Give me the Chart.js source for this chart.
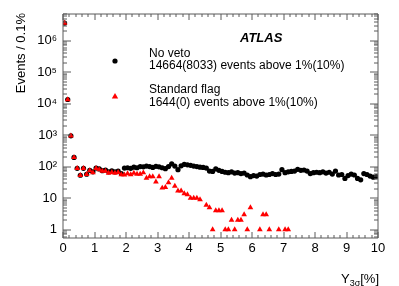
<!DOCTYPE html>
<html><head><meta charset="utf-8">
<script src="https://cdn.jsdelivr.net/npm/chart.js@4/dist/chart.umd.min.js"></script>
<style>html,body{margin:0;padding:0;background:#fff;}canvas{display:block;}</style>
</head><body>
<canvas id="c" width="399" height="286"></canvas>
<script>
// Bin centres of Y_3sigma [%] (0.1% bins)
const binCenters = [0.05,0.15,0.25,0.35,0.45,0.55,0.65,0.75,0.85,0.95,
1.05,1.15,1.25,1.35,1.45,1.55,1.65,1.75,1.85,1.95,
2.05,2.15,2.25,2.35,2.45,2.55,2.65,2.75,2.85,2.95,
3.05,3.15,3.25,3.35,3.45,3.55,3.65,3.75,3.85,3.95,
4.05,4.15,4.25,4.35,4.45,4.55,4.65,4.75,4.85,4.95,
5.05,5.15,5.25,5.35,5.45,5.55,5.65,5.75,5.85,5.95,
6.05,6.15,6.25,6.35,6.45,6.55,6.65,6.75,6.85,6.95,
7.05,7.15,7.25,7.35,7.45,7.55,7.65,7.75,7.85,7.95,
8.05,8.15,8.25,8.35,8.45,8.55,8.65,8.75,8.85,8.95,
9.05,9.15,9.25,9.35,9.45,9.55,9.65,9.75,9.85,9.95];

// "No veto" events per bin
const noVeto = [3.6e6,1.35e4,950,195,88,53,88,57,76,68,
90,84,74,78,68,73,68,72,60,90,
92,88,96,92,100,98,104,100,94,102,
98,92,86,100,122,104,80,106,118,114,
110,104,100,96,94,90,72,70,84,76,
70,66,64,68,62,64,60,62,54,48,
52,50,56,58,54,56,60,56,58,80,
64,68,70,72,82,76,78,72,60,64,
66,64,68,62,66,58,72,54,56,42,
52,58,54,42,38,60,56,50,46,48];

// "Standard flag" events per bin (null = empty bin)
const standardFlag = [3.6e6,1.35e4,950,195,88,53,88,57,75,64,
88,80,72,72,62,66,62,66,56,55,
60,56,62,58,58,64,43,48,48,33,
48,21,22,31,43,24,17,17,14,13,
10,10,10,9,null,6,5,1,4,4,
4,1,1,2,1,2,2,3,1,5,
null,null,1,3,3,1,null,null,1,null,
1,1,null,null,null,null,null,null,null,null,
null,null,null,null,null,null,null,null,null,null,
null,null,null,null,null,null,null,null,null,null];

const xTicks = [0,1,2,3,4,5,6,7,8,9,10];
const yDecades = [1,10,100,1000,10000,100000,1000000];
const yTickLabels = ['1','10','10\u00B2','10\u00B3','10\u2074','10\u2075','10\u2076'];

const legendTitles = ['No veto','Standard flag'];
const legendLines = ['14664(8033) events above 1%(10%)','1644(0) events above 1%(10%)'];

const FONT = "'Liberation Sans', Arial, Helvetica, sans-serif";

function toPoints(vals){
  const out = [];
  vals.forEach((v,i)=>{ if(v!==null) out.push({x:binCenters[i], y:v}); });
  return out;
}

const framePlugin = {
  id:'frame',
  afterDatasetsDraw(chart){
    const ctx = chart.ctx, a = chart.chartArea;
    const xs = chart.scales.x, ys = chart.scales.y;
    ctx.save();
    ctx.strokeStyle = '#5a5a5a';
    ctx.lineWidth = 1;
    const L = Math.round(a.left), R = Math.round(a.right), T = Math.round(a.top), B = Math.round(a.bottom);
    ctx.beginPath();
    ctx.rect(L, T, R-L, B-T);
    ctx.stroke();
    ctx.beginPath();
    // x ticks (major every 1, minor every 0.2)
    for(let k=0;k<=50;k++){
      const v = k*0.2;
      const px = Math.round(xs.getPixelForValue(v));
      const len = (k%5===0)?6:3;
      ctx.moveTo(px, B); ctx.lineTo(px, B-len);
      ctx.moveTo(px, T); ctx.lineTo(px, T+len);
    }
    // y log ticks
    for(let d=-1; d<=6; d++){
      for(let m=1;m<=9;m++){
        const v = m*Math.pow(10,d);
        if(v<ys.min || v>ys.max) continue;
        const py = Math.round(ys.getPixelForValue(v));
        const len = (m===1)?8:4;
        ctx.moveTo(L, py); ctx.lineTo(L+len, py);
        ctx.moveTo(R, py); ctx.lineTo(R-len, py);
      }
    }
    ctx.stroke();

    // y axis title
    ctx.fillStyle = '#000';
    ctx.font = '13px ' + FONT;
    ctx.save();
    ctx.translate(25, 13);
    ctx.rotate(-Math.PI/2);
    ctx.textAlign = 'right';
    ctx.textBaseline = 'alphabetic';
    ctx.fillText('Events / 0.1%', 0, 0);
    ctx.restore();

    // x axis title: Y_{3σ}[%], right aligned to axis end
    ctx.textBaseline = 'alphabetic';
    ctx.textAlign = 'left';
    const f1 = '13px ' + FONT, f2 = '9px ' + FONT;
    ctx.font = f1; const wBr = ctx.measureText('[%]').width; const wY = ctx.measureText('Y').width;
    ctx.font = f2; const wSub = ctx.measureText('3\u03C3').width;
    let x0 = R + 1 - wBr - wSub - wY;
    ctx.font = f1; ctx.fillText('Y', x0, 283);
    ctx.font = f2; ctx.fillText('3\u03C3', x0 + wY, 285.5);
    ctx.font = f1; ctx.fillText('[%]', x0 + wY + wSub, 283);

    // ATLAS label
    ctx.font = 'italic bold 13px ' + FONT;
    ctx.fillText('ATLAS', 240, 41.7);

    // legend
    ctx.font = '12px ' + FONT;
    ctx.fillText(legendTitles[0], 149, 56.7);
    ctx.fillText(legendLines[0], 149, 69.3);
    ctx.fillText(legendTitles[1], 149, 92.5);
    ctx.fillText(legendLines[1], 149, 105.5);
    ctx.fillStyle = '#000';
    ctx.beginPath(); ctx.arc(115, 61, 2.6, 0, Math.PI*2); ctx.fill();
    ctx.fillStyle = '#ff0000';
    ctx.beginPath();
    ctx.moveTo(115, 93); ctx.lineTo(118.2, 98.5); ctx.lineTo(111.8, 98.5); ctx.closePath(); ctx.fill();
    ctx.restore();
  }
};

new Chart(document.getElementById('c'), {
  type:'scatter',
  data:{
    datasets:[
      {label:'Standard flag', data:toPoints(standardFlag), pointStyle:'triangle', pointRadius:3.3,
       backgroundColor:'#ff0000', borderColor:'#ff0000', borderWidth:0, pointHoverRadius:3.3},
      {label:'No veto', data:toPoints(noVeto), pointStyle:'circle', pointRadius:2.6,
       backgroundColor:'#000000', borderColor:'#000000', borderWidth:0, pointHoverRadius:2.6}
    ]
  },
  options:{
    responsive:false,
    animation:false,
    devicePixelRatio:1,
    layout:{padding:{left:0, right:21, top:14, bottom:0}},
    plugins:{legend:{display:false}, tooltip:{enabled:false}},
    scales:{
      x:{
        type:'linear', min:0, max:10,
        afterBuildTicks(s){ s.ticks = xTicks.map(v=>({value:v})); },
        ticks:{padding:3, color:'#000', font:{family:FONT, size:13}, maxRotation:0, autoSkip:false,
               callback:(v)=>String(v)},
        grid:{display:false, drawTicks:false},
        border:{display:false},
        afterFit(s){ s.height = 48; }
      },
      y:{
        type:'logarithmic', min:0.54, max:7e6,
        afterBuildTicks(s){ s.ticks = yDecades.map(v=>({value:v})); },
        ticks:{padding:6, color:'#000', font:{family:FONT, size:13}, autoSkip:false,
               callback:(v)=>{ const i = yDecades.indexOf(v); return i>=0 ? yTickLabels[i] : ''; }},
        grid:{display:false, drawTicks:false},
        border:{display:false},
        afterFit(s){ s.width = 63; }
      }
    }
  },
  plugins:[framePlugin]
});
</script>
</body></html>
